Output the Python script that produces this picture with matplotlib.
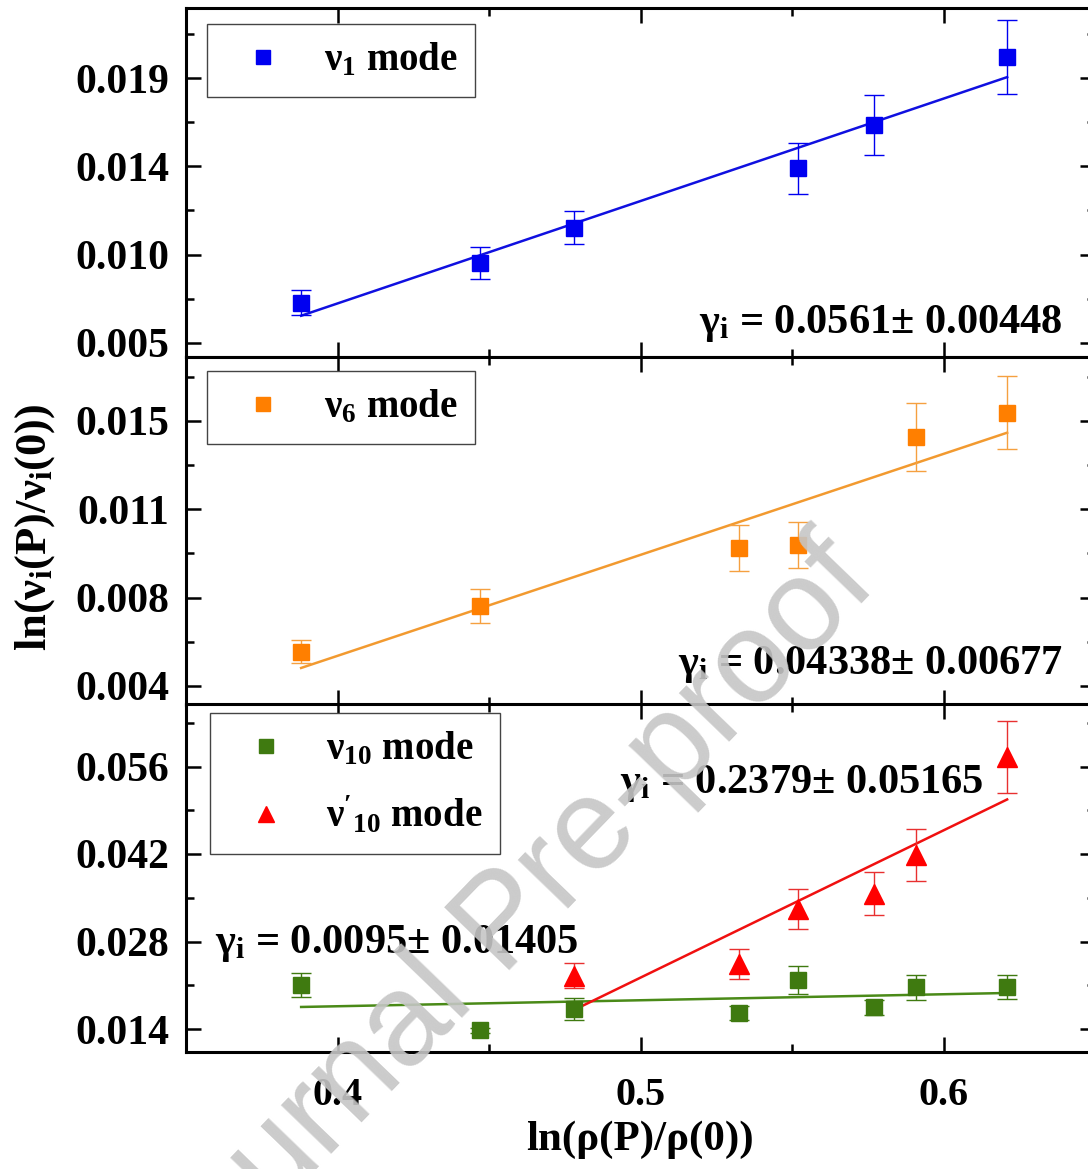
import numpy as np
import matplotlib
matplotlib.use('Agg')
import matplotlib.pyplot as plt
from matplotlib.ticker import FixedLocator, FuncFormatter

plt.rcParams['font.family'] = ['Liberation Serif', 'DejaVu Serif']
plt.rcParams['font.weight'] = 'bold'
plt.rcParams['mathtext.fontset'] = 'custom'
plt.rcParams['mathtext.rm'] = 'Liberation Serif:bold'
plt.rcParams['mathtext.bf'] = 'Liberation Serif:bold'
plt.rcParams['mathtext.it'] = 'Liberation Serif:bold'

# dados: ln(rho(P)/rho(0)) e ln(nu_i(P)/nu_i(0))
x_v1 = [0.388, 0.447, 0.478, 0.552, 0.577, 0.621]
y_v1 = [0.00705, 0.00909, 0.01088, 0.0139, 0.0161, 0.01957]
e_v1 = [0.00064, 0.00082, 0.00082, 0.0013, 0.00153, 0.0019]
fit_v1 = (0.0522, -0.01387)  # inclinacao, intercepto

x_v6 = [0.388, 0.447, 0.5325, 0.552, 0.591, 0.621]
y_v6 = [0.00543, 0.00735, 0.00978, 0.00991, 0.01443, 0.01544]
e_v6 = [0.00048, 0.00071, 0.00096, 0.00096, 0.00142, 0.00153]
fit_v6 = (0.0423, -0.01166)

x_v10 = [0.388, 0.447, 0.478, 0.5325, 0.552, 0.577, 0.591, 0.621]
y_v10 = [0.02104, 0.01384, 0.0172, 0.01656, 0.02184, 0.01752, 0.02072, 0.02072]
e_v10 = [0.0019, 0.0004, 0.0017, 0.0011, 0.0022, 0.0012, 0.002, 0.0019]
fit_v10 = (0.0096, 0.0138)

x_v10p = [0.478, 0.5325, 0.552, 0.577, 0.591, 0.621]
y_v10p = [0.02256, 0.0244, 0.0332, 0.03568, 0.04184, 0.05752]
e_v10p = [0.002, 0.0024, 0.0032, 0.0034, 0.0042, 0.0058]
fit_v10p = (0.2356, -0.09558)

gamma_v1 = r'$\mathbf{\gamma_i}$ = 0.0561± 0.00448'
gamma_v6 = r'$\mathbf{\gamma_i}$ = 0.04338± 0.00677'
gamma_v10 = r'$\mathbf{\gamma_i}$ = 0.0095± 0.01405'
gamma_v10p = r'$\mathbf{\gamma_i}$ = 0.2379± 0.05165'

# ticks
x_major = [0.4, 0.5, 0.6]
x_minor = [0.35, 0.45, 0.55, 0.65]
ticks1 = [0.005, 0.0095, 0.014, 0.0185]
ticks2 = [0.004, 0.0077, 0.0114, 0.0151]
ticks3 = [0.014, 0.028, 0.042, 0.056]
ylim1 = (0.00428, 0.02207)
ylim2 = (0.0032, 0.01778)
ylim3 = (0.01032, 0.066)

W, H = 1088, 1169
fig = plt.figure(figsize=(W / 100, H / 100), dpi=100)

left = 186 / W
width = 909 / W
ax1 = fig.add_axes([left, (H - 357) / H, width, 349 / H])
ax2 = fig.add_axes([left, (H - 705) / H, width, 348 / H])
ax3 = fig.add_axes([left, (H - 1052) / H, width, 348 / H])


def style_axis(ax, ticks, ylim, show_x):
    ax.set_xlim(0.35, 0.65)
    ax.set_ylim(*ylim)
    ax.xaxis.set_major_locator(FixedLocator(x_major))
    ax.xaxis.set_minor_locator(FixedLocator(x_minor))
    step = ticks[1] - ticks[0]
    minors = [t + step / 2 for t in ticks] + [ticks[0] - step / 2]
    ax.yaxis.set_major_locator(FixedLocator(ticks))
    ax.yaxis.set_minor_locator(FixedLocator(minors))
    ax.yaxis.set_major_formatter(FuncFormatter(lambda v, p: f"{v + 1e-9:.3f}"))
    ax.tick_params(which='both', direction='in', top=True, right=True, width=1.8)
    ax.tick_params(which='major', length=11)
    ax.tick_params(which='minor', length=6)
    ax.tick_params(axis='y', pad=12, labelsize=30)
    ax.tick_params(axis='x', pad=18, labelsize=29, labelbottom=show_x)
    for s in ax.spines.values():
        s.set_linewidth(2.2)


def fit_line(ax, xs, fit, color):
    xx = np.array([min(xs), max(xs)])
    ax.plot(xx, fit[0] * xx + fit[1], color=color, lw=1.8, zorder=2)


# Painel nu_1
ax1.errorbar(x_v1, y_v1, yerr=e_v1, fmt='s', color='#0000f0', ms=12, capsize=7, elinewidth=1, capthick=1, label=r'$\mathbf{\nu_1}$ mode', zorder=3)
fit_line(ax1, x_v1, fit_v1, '#1010e0')
ax1.text(0.964, 0.069, gamma_v1, transform=ax1.transAxes, ha='right', va='baseline', fontsize=30.5)
style_axis(ax1, ticks1, ylim1, False)

# Painel nu_6
ax2.errorbar(x_v6, y_v6, yerr=e_v6, fmt='s', color='#ff7f00', ecolor='#f5a040', ms=12, capsize=7, elinewidth=1, capthick=1, label=r'$\mathbf{\nu_6}$ mode', zorder=3)
fit_line(ax2, x_v6, fit_v6, '#f29a30')
ax2.text(0.965, 0.089, gamma_v6, transform=ax2.transAxes, ha='right', va='baseline', fontsize=30.5)
style_axis(ax2, ticks2, ylim2, False)

# Painel nu_10
ax3.errorbar(x_v10, y_v10, yerr=e_v10, fmt='s', color='#3f7a10', ms=12, capsize=7, elinewidth=1, capthick=1, label=r'$\mathbf{\nu_{10}}$ mode', zorder=3)
ax3.errorbar(x_v10p, y_v10p, yerr=e_v10p, fmt='^', color='#ff0000', ecolor='#e83030', ms=14, capsize=7, elinewidth=1, capthick=1, label=r"$\mathbf{\nu'_{10}}$ mode", zorder=3)
fit_line(ax3, x_v10, fit_v10, '#4a8a18')
fit_line(ax3, x_v10p, fit_v10p, '#f01010')
ax3.text(0.032, 0.2845, gamma_v10, transform=ax3.transAxes, ha='left', va='baseline', fontsize=30.5)
ax3.text(0.4775, 0.744, gamma_v10p, transform=ax3.transAxes, ha='left', va='baseline', fontsize=30.5)
style_axis(ax3, ticks3, ylim3, True)

leg_kw = dict(loc='upper left', borderaxespad=0, fontsize=28, fancybox=False, framealpha=1,
              edgecolor='#444444', handlelength=2.0, handletextpad=0.55, borderpad=0.45, markerscale=0.8)
for ax, anchor in [(ax1, (0.023, 0.954)), (ax2, (0.023, 0.96)), (ax3, (0.026, 0.974))]:
    handles, labels = ax.get_legend_handles_labels()
    handles = [h[0] for h in handles]
    leg = ax.legend(handles, labels, bbox_to_anchor=anchor, labelspacing=0.7, **leg_kw)
    leg.get_frame().set_linewidth(1)

fig.text(35 / W, 1 - 527 / H, r'ln($\mathbf{\nu_i}$(P)/$\mathbf{\nu_i}$(0))', rotation=90, ha='center', va='center', fontsize=32)
fig.text(640 / W, 1 - 1140 / H, 'ln(ρ(P)/ρ(0))', ha='center', va='center', fontsize=31)

# marca d'agua
fig.text(505 / W, 1 - 925 / H, 'Journal Pre-proof', rotation=46, fontsize=94, color='#c6c6c6',
         ha='center', va='center', family='Liberation Sans', fontweight='normal', alpha=0.9, zorder=10)

fig.savefig('out.png', dpi=100)
